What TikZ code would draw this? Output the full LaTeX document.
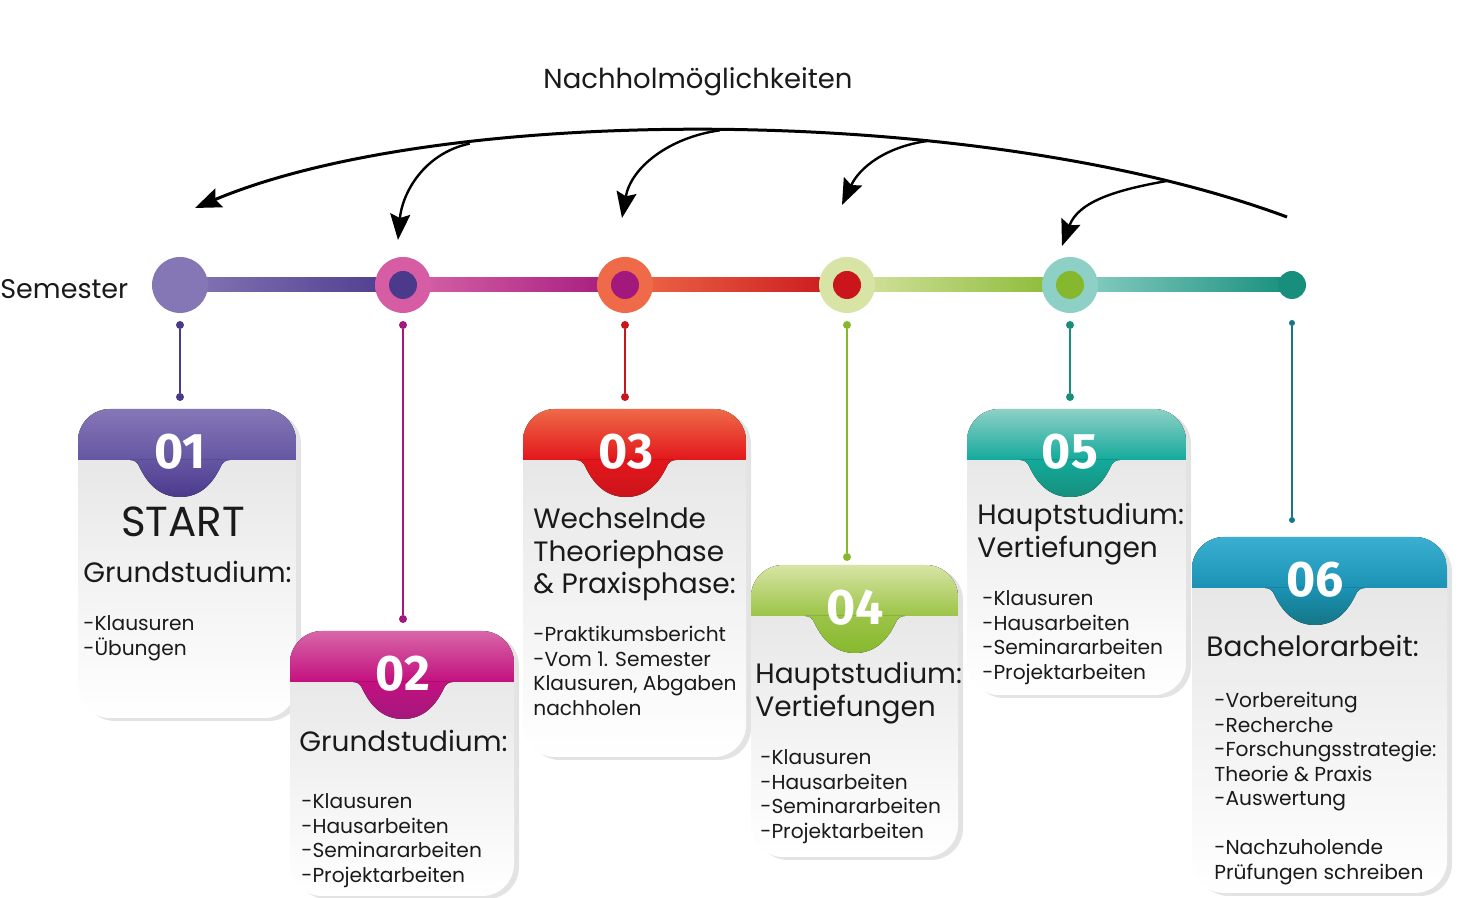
\documentclass[tikz,border=0pt]{standalone}
\usepackage{fontspec}
\setmainfont{Poppins}
\newfontfamily\numfont{Fira Sans}
\usetikzlibrary{arrows.meta, positioning, calc, shadows}

\definecolor{violA}{RGB}{133, 119, 182}
\definecolor{violB}{RGB}{101, 86, 163}
\definecolor{violC}{RGB}{75, 58, 140}
\definecolor{pinkA}{RGB}{216, 102, 168}
\definecolor{pinkB}{RGB}{195, 16, 127}
\definecolor{pinkC}{RGB}{163, 24, 125}
\definecolor{redA}{RGB}{238, 106, 72}
\definecolor{redB}{RGB}{227, 22, 27}
\definecolor{redC}{RGB}{201, 21, 27}
\definecolor{limeA}{RGB}{215, 228, 165}
\definecolor{limeB}{RGB}{156, 196, 71}
\definecolor{limeC}{RGB}{134, 184, 46}
\definecolor{tealA}{RGB}{142, 208, 198}
\definecolor{tealB}{RGB}{19, 170, 155}
\definecolor{tealC}{RGB}{23, 143, 124}
\definecolor{blueA}{RGB}{58, 175, 209}
\definecolor{blueB}{RGB}{27, 146, 180}
\definecolor{blueC}{RGB}{21, 118, 134}
\definecolor{ink}{RGB}{26, 26, 26}

\begin{document}
\begin{tikzpicture}[
  x=0.5pt, y=0.5pt,
  ring/.style={circle, inner sep=0pt, minimum size=28pt, fill=#1},
  core/.style={circle, inner sep=0pt, minimum size=14pt, fill=#1},
  pin/.style={circle, inner sep=0pt, minimum size=4pt, fill=#1},
  stem/.style={line width=1pt, #1},
  card/.style={rounded corners=16pt, top color=gray!22, bottom color=white, drop shadow={shadow xshift=2.5pt, shadow yshift=-1.5pt, opacity=0.22}},
  numlabel/.style={font=\numfont\bfseries\fontsize{25}{25}\selectfont, text=white, inner sep=0pt},
  head/.style={anchor=base west, align=left, inner sep=0pt, text=ink, font=\fontsize{14}{16.25}\selectfont},
  items/.style={anchor=base west, align=left, inner sep=0pt, text=ink, font=\fontsize{10.1}{12.25}\selectfont},
  back/.style={-{Stealth[length=13pt, width=10pt, inset=2pt]}, line width=1.2pt},
]
  \useasboundingbox (0,0) rectangle (1469,898);

  % Cards
  \foreach \num/\xl/\yt/\xr/\yb/\yh/\xn/\ca/\cb/\cc in {
      01/78/489/296/180/438/180/violA/violB/violC,
      02/290/267/514/2/216/403/pinkA/pinkB/pinkC,
      03/523/489/746/141/438/626/redA/redB/redC,
      04/751/333/958/41/282/855/limeA/limeB/limeC,
      05/967/489/1186/203/438/1070/tealA/tealB/tealC,
      06/1192/361/1447/5/310/1315/blueA/blueB/blueC} {
    \path[card] (\xl,\yb) rectangle (\xr,\yt);
    \begin{scope}
      \clip[rounded corners=16pt] (\xl,\yb) rectangle (\xr,\yt);
      \fill[top color=\ca, bottom color=\cb] (\xl,\yh) rectangle (\xr,\yt);
    \end{scope}
    \fill[top color=\cb, bottom color=\cc] (\xn-50,\yh) to[out=0,in=115] (\xn-41,\yh-6)
      to[out=-65,in=180] (\xn,\yh-37) to[out=0,in=-115] (\xn+41,\yh-6)
      to[out=65,in=180] (\xn+50,\yh) -- cycle;
    \node[numlabel] (n\num) at (\xn,\yh+8) {\num};
  }

  % Timeline
  \coordinate (s1) at (180,613);
  \coordinate (s2) at (403,613);
  \coordinate (s3) at (625,613);
  \coordinate (s4) at (847,613);
  \coordinate (s5) at (1070,613);
  \coordinate (s6) at (1292,613);
  \fill[left color=violA, right color=violC] ($(s1)+(0,-7)$) rectangle ($(s2)+(0,7)$);
  \fill[left color=pinkA, middle color=pinkB, right color=pinkC] ($(s2)+(0,-7)$) rectangle ($(s3)+(0,7)$);
  \fill[left color=redA, middle color=redB, right color=redC] ($(s3)+(0,-7)$) rectangle ($(s4)+(0,7)$);
  \fill[left color=limeA, right color=limeC] ($(s4)+(0,-7)$) rectangle ($(s5)+(0,7)$);
  \fill[left color=tealA, middle color=tealB, right color=tealC] ($(s5)+(0,-7)$) rectangle ($(s6)+(0,7)$);
  \node[ring=violA] (r1) at (s1) {};
  \node[ring=pinkA!90!pinkB] (r2) at (s2) {};
  \node[ring=redA] (r3) at (s3) {};
  \node[ring=limeA] (r4) at (s4) {};
  \node[ring=tealA] (r5) at (s5) {};
  \node[core=violC] (k2) at (s2) {};
  \node[core=pinkC] (k3) at (s3) {};
  \node[core=redC] (k4) at (s4) {};
  \node[core=limeC] (k5) at (s5) {};
  \node[core=tealC] (k6) at (s6) {};

  % Stems
  \node[pin=violC] (t1) at (180,573) {};
  \node[pin=violC] (b1) at (180,501) {};
  \node[pin=pinkC] (t2) at (403,573) {};
  \node[pin=pinkC] (b2) at (403,279) {};
  \node[pin=redC] (t3) at (625,573) {};
  \node[pin=redC] (b3) at (625,501) {};
  \node[pin=limeC] (t4) at (847,573) {};
  \node[pin=limeC] (b4) at (847,341) {};
  \node[pin=tealC] (t5) at (1070,573) {};
  \node[pin=tealC] (b5) at (1070,501) {};
  \node[pin=blueC, minimum size=3pt] (t6) at (1292,575) {};
  \node[pin=blueC, minimum size=3pt] (b6) at (1292,378) {};
  \draw[stem=violC] (t1) -- (b1);
  \draw[stem=pinkC] (t2) -- (b2);
  \draw[stem=redC] (t3) -- (b3);
  \draw[stem=limeC] (t4) -- (b4);
  \draw[stem=tealC] (t5) -- (b5);
  \draw[stem=blueC, line width=0.8pt] (t6) -- (b6);

  % Arrows
  \node[anchor=base, inner sep=0pt, text=ink, font=\fontsize{13.75}{15}\selectfont] (title) at (698,809) {Nachholmöglichkeiten};
  \coordinate (arcR) at (1287,681);
  \coordinate (arcL) at (195,690);
  \coordinate (tip2) at (398,658);
  \coordinate (tip3) at (622,680);
  \coordinate (tip4) at (842,693);
  \coordinate (tip5) at (1062,652);
  \draw[back, line width=1.5pt] (arcR) .. controls (980,795) and (445,795) .. (arcL)
    coordinate[pos=0.12] (j5) coordinate[pos=0.33] (j4) coordinate[pos=0.5] (j3) coordinate[pos=0.712] (j2);
  \draw[back] (j2) to[out=192,in=85] (tip2);
  \draw[back] (j3) to[out=188,in=80] (tip3);
  \draw[back] (j4) to[out=188,in=65] (tip4);
  \draw[back] (j5) to[out=190,in=70] (tip5);

  % Texts (anchored at the baseline of the last line)
  \node[anchor=base west, inner sep=0pt, text=ink, font=\fontsize{13.5}{15}\selectfont] (sem) at (0,599) {Semester};
  \node[anchor=base, inner sep=0pt, text=ink, font=\fontsize{21}{21}\selectfont] (start) at (183,361) {START};
  \node[head] (h1) at (83,315) {Grundstudium:};
  \node[items] (l1) at (83,242.5) {-Klausuren\\-Übungen};
  \node[head] (h2) at (299,146) {Grundstudium:};
  \node[items] (l2) at (301,15.5) {-Klausuren\\-Hausarbeiten\\-Seminararbeiten\\-Projektarbeiten};
  \node[head] (h3) at (533,304) {Wechselnde\\Theoriephase\\\& Praxisphase:};
  \node[items] (l3) at (533,182.5) {-Praktikumsbericht\\-Vom 1. Semester\\Klausuren, Abgaben\\nachholen};
  \node[head] (h4) at (755,181.5) {Hauptstudium:\\Vertiefungen};
  \node[items] (l4) at (760,59.5) {-Klausuren\\-Hausarbeiten\\-Seminararbeiten\\-Projektarbeiten};
  \node[head] (h5) at (977,340.5) {Hauptstudium:\\Vertiefungen};
  \node[items] (l5) at (982,218.5) {-Klausuren\\-Hausarbeiten\\-Seminararbeiten\\-Projektarbeiten};
  \node[head] (h6) at (1206,241) {Bachelorarbeit:};
  \node[items] (l6) at (1214,18.5) {-Vorbereitung\\-Recherche\\-Forschungsstrategie:\\Theorie \& Praxis\\-Auswertung\\[12.25pt]-Nachzuholende\\Prüfungen schreiben};
\end{tikzpicture}
\end{document}
